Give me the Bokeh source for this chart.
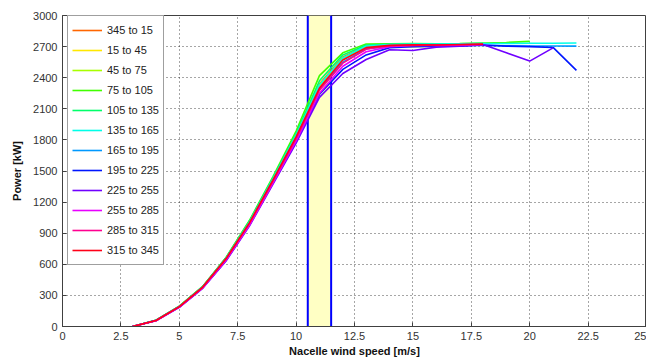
from bokeh.plotting import figure
from bokeh.models import Legend, LegendItem, BoxAnnotation, Span, FixedTicker
from bokeh.embed import file_html
from bokeh.resources import INLINE

labels = ["345 to 15", "15 to 45", "45 to 75", "75 to 105", "105 to 135", "135 to 165",
          "165 to 195", "195 to 225", "225 to 255", "255 to 285", "285 to 315", "315 to 345"]
colors = ["#FF6600", "#FFE800", "#A8FF00", "#40FF00", "#00FF6A", "#00FFE8",
          "#0099FF", "#0016FF", "#7000FF", "#E800FF", "#FF0090", "#FF0018"]

ws_18 = [3, 4, 5, 6, 7, 8, 9, 10, 11, 12, 13, 14, 15, 16, 17, 18]
ws_20 = ws_18 + [19, 20]
ws_21 = ws_20 + [21]
ws_22 = ws_21 + [22]

p_345_15 = [0, 59, 194, 383, 660, 1008, 1420, 1850, 2340, 2600, 2705, 2715, 2718, 2718, 2720, 2722]
p_15_45 = [0, 58, 192, 380, 655, 1000, 1410, 1830, 2320, 2580, 2695, 2710, 2715, 2716, 2718, 2720]
p_45_75 = [0, 59, 193, 381, 657, 1005, 1415, 1835, 2330, 2590, 2700, 2705, 2700, 2705, 2712, 2720]
p_75_105 = [0, 60, 196, 386, 666, 1022, 1442, 1885, 2420, 2640, 2725, 2728, 2730, 2728, 2730, 2735, 2740, 2750]
p_105_135 = [0, 60, 195, 384, 662, 1015, 1430, 1860, 2370, 2620, 2715, 2722, 2725, 2725, 2728, 2730]
p_135_165 = [0, 59, 193, 382, 658, 1005, 1420, 1845, 2330, 2590, 2705, 2720, 2725, 2725, 2728, 2730, 2730, 2732, 2733, 2735]
p_165_195 = [0, 58, 190, 378, 650, 995, 1405, 1820, 2290, 2550, 2680, 2705, 2710, 2712, 2712, 2710, 2708, 2706, 2706, 2705]
p_195_225 = [0, 57, 188, 372, 640, 980, 1385, 1790, 2240, 2480, 2620, 2690, 2700, 2705, 2705, 2715, 2705, 2700, 2692, 2470]
p_225_255 = [0, 55, 185, 368, 632, 968, 1368, 1768, 2210, 2440, 2575, 2670, 2662, 2695, 2705, 2720, 2640, 2560, 2688]
p_255_285 = [0, 56, 187, 372, 640, 975, 1380, 1790, 2250, 2510, 2650, 2700, 2710, 2712, 2715, 2718]
p_285_315 = [0, 57, 190, 376, 648, 990, 1395, 1810, 2280, 2540, 2675, 2708, 2712, 2715, 2718, 2722]
p_315_345 = [0, 58, 192, 380, 655, 1000, 1410, 1830, 2300, 2570, 2690, 2712, 2718, 2715, 2720, 2724]

series_x = [ws_18, ws_18, ws_18, ws_20, ws_18, ws_22, ws_22, ws_22, ws_21, ws_18, ws_18, ws_18]
series_y = [p_345_15, p_15_45, p_45_75, p_75_105, p_105_135, p_135_165,
            p_165_195, p_195_225, p_225_255, p_255_285, p_285_315, p_315_345]

band_left, band_right = 10.5, 11.5
x_ticks = [0, 2.5, 5, 7.5, 10, 12.5, 15, 17.5, 20, 22.5, 25]
x_tick_labels = ["0", "2.5", "5", "7.5", "10", "12.5", "15", "17.5", "20", "22.5", "25"]
y_ticks = [0, 300, 600, 900, 1200, 1500, 1800, 2100, 2400, 2700, 3000]

p = figure(width=646, height=360, x_range=(0, 25), y_range=(0, 3000),
           output_backend="svg", toolbar_location=None,
           min_border_left=62, min_border_right=0, min_border_top=15, min_border_bottom=34)
p.background_fill_color = "white"
p.border_fill_color = "white"
p.outline_line_color = "#404040"

for ax, ticks in ((p.xaxis[0], x_ticks), (p.yaxis[0], y_ticks)):
    ax.ticker = FixedTicker(ticks=ticks)
    ax.major_tick_in = 4
    ax.major_tick_out = 0
    ax.minor_tick_line_color = None
    ax.axis_line_color = "#404040"
    ax.major_tick_line_color = "#404040"
    ax.major_label_text_font = "Liberation Sans"
    ax.major_label_text_font_size = "11px"
    ax.major_label_text_color = "#333333"
    ax.axis_label_text_font = "Liberation Sans"
    ax.axis_label_text_font_size = "11px"
    ax.axis_label_text_font_style = "bold"
    ax.axis_label_text_color = "#111111"

p.xaxis.major_label_overrides = {t: s for t, s in zip(x_ticks, x_tick_labels)}
p.xaxis.axis_label = "Nacelle wind speed [m/s]"
p.yaxis.axis_label = "Power [kW]"
p.xaxis.major_label_standoff = 5
p.xaxis.axis_label_standoff = 2
p.yaxis.major_label_standoff = 5
p.yaxis.axis_label_standoff = 7

for g, ticks in ((p.xgrid[0], x_ticks), (p.ygrid[0], y_ticks)):
    g.ticker = FixedTicker(ticks=ticks)
    g.grid_line_color = "#000000"
    g.grid_line_alpha = 0.7
    g.grid_line_dash = "1 3"
    g.grid_line_width = 1

band = BoxAnnotation(left=band_left, right=band_right, fill_color="#FFFFC4", fill_alpha=1.0,
                     line_color=None, level="underlay")
p.add_layout(band)
for loc in (band_left, band_right):
    p.add_layout(Span(location=loc, dimension="height", line_color="#0000FF",
                      line_width=2, level="underlay"))

items = []
for lab, col, xs, ys in zip(labels, colors, series_x, series_y):
    r = p.line(xs, ys, line_color=col, line_width=1.6)
    items.append(LegendItem(label=lab, renderers=[r]))

legend = Legend(items=items, location=(5, 61))
legend.label_text_font = "Liberation Sans"
legend.label_text_font_size = "11px"
legend.label_text_color = "#222222"
legend.label_height = 20
legend.glyph_height = 20
legend.glyph_width = 30
legend.label_standoff = 5
legend.spacing = 0
legend.padding = 4
legend.margin = 0
legend.border_line_color = "#404040"
legend.border_line_width = 1
legend.background_fill_color = "white"
legend.background_fill_alpha = 1.0
p.add_layout(legend)

open("out.html", "w").write(file_html(p, INLINE))
